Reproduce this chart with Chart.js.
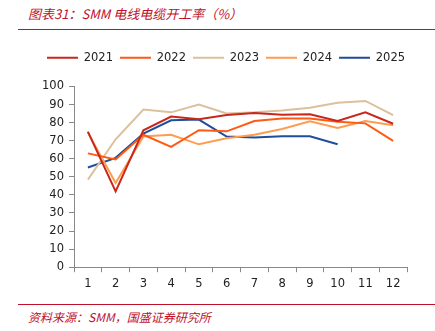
<!DOCTYPE html>
<html>
<head>
<meta charset="utf-8">
<script src="https://cdn.jsdelivr.net/npm/chart.js@4"></script>
<style>
  body { margin: 0; width: 435px; height: 331px; background: #fff; position: relative; overflow: hidden; font-family: "DejaVu Sans", sans-serif; }
  .title { position: absolute; left: 28px; top: 4px; color: #c0102a; font-style: italic; font-size: 13px; font-family: "Noto Sans CJK SC", sans-serif; }
  .rule { position: absolute; left: 18px; right: 0; height: 1px; background: #c0102a; }
  .source { position: absolute; left: 28px; top: 308px; color: #c0102a; font-style: italic; font-size: 12px; font-family: "Noto Sans CJK SC", sans-serif; }
  #wrap { position: absolute; left: 0; top: 42px; width: 435px; height: 258px; }
</style>
</head>
<body>
<div class="title">图表31：SMM 电线电缆开工率（%）</div>
<div class="rule" style="top:29px"></div>
<div id="wrap"><canvas id="myChart"></canvas></div>
<div class="rule" style="top:304px"></div>
<div class="source">资料来源：SMM，国盛证券研究所</div>
<script>
// months on the x axis
const months = ['1', '2', '3', '4', '5', '6', '7', '8', '9', '10', '11', '12'];

// operating rate by year (%)
const y2021 = [75, 42, 75.8, 83.4, 81.9, 84.2, 85.3, 84.4, 84.6, 80.9, 85.7, 79.4];
const y2022 = [63, 59.6, 73.3, 66.6, 75.8, 75.2, 80.9, 82.3, 82.3, 80.5, 79.6, 69.9];
const y2023 = [48.5, 70.8, 87.2, 85.7, 90, 85.1, 85.7, 86.7, 88.2, 91, 92, 84.2];
const y2024 = [74.5, 46.6, 72.3, 73.3, 68, 71.4, 73.3, 76.5, 80.7, 77.1, 80.9, 78.6];
const y2025 = [55.2, 60.5, 73.9, 81.3, 81.7, 72.3, 71.8, 72.5, 72.5, 68];

const makeSet = (label, data, color) => ({
  label: label,
  data: data,
  borderColor: color,
  backgroundColor: color,
  borderWidth: 2,
  pointRadius: 0,
  tension: 0,
});

// extra space under the legend
const legendGap = {
  id: 'legendGap',
  beforeInit(chart) {
    const fit = chart.legend.fit;
    chart.legend.fit = function () {
      fit.bind(chart.legend)();
      this.height += 13;
    };
  },
};

const ctx = document.getElementById('myChart').getContext('2d');
const myChart = new Chart(ctx, {
  type: 'line',
  data: {
    labels: months,
    datasets: [
      makeSet('2021', y2021, '#c8281c'),
      makeSet('2022', y2022, '#ff5a14'),
      makeSet('2023', y2023, '#dcc09c'),
      makeSet('2024', y2024, '#ff9c50'),
      makeSet('2025', y2025, '#1f4e9c'),
    ],
  },
  options: {
    responsive: true,
    maintainAspectRatio: false,
    animation: false,
    layout: { padding: { left: 17, right: 0, top: 3, bottom: 4 } },
    plugins: {
      legend: {
        position: 'top',
        labels: {
          boxWidth: 31,
          boxHeight: 0,
          padding: 7,
          color: '#222',
          font: { family: 'DejaVu Sans', size: 11.5 },
        },
      },
      tooltip: { enabled: false },
    },
    scales: {
      x: {
        offset: true,
        grid: { offset: true, drawOnChartArea: false, drawTicks: true, tickLength: 5, color: '#888' },
        border: { color: '#888' },
        ticks: { color: '#222', font: { family: 'DejaVu Sans', size: 11.5 }, padding: 5 },
      },
      y: {
        min: 0,
        max: 100,
        afterBuildTicks: (axis) => {
          axis.ticks = [];
          for (let v = 0; v <= 100; v += 10) axis.ticks.push({ value: v });
        },
        afterFit: (axis) => { axis.width = 57; },
        ticks: { autoSkip: false, color: '#222', font: { family: 'DejaVu Sans', size: 11.5 }, padding: 5 },
        grid: { drawOnChartArea: false, drawTicks: true, tickLength: 5, color: '#888' },
        border: { color: '#888' },
      },
      // empty right-hand axis, only reserves margin
      yRight: {
        position: 'right',
        min: 0,
        max: 100,
        afterFit: (axis) => { axis.width = 28; },
        ticks: { display: false },
        grid: { display: false },
        border: { display: false },
      },
    },
  },
  plugins: [legendGap],
});
</script>
</body>
</html>
